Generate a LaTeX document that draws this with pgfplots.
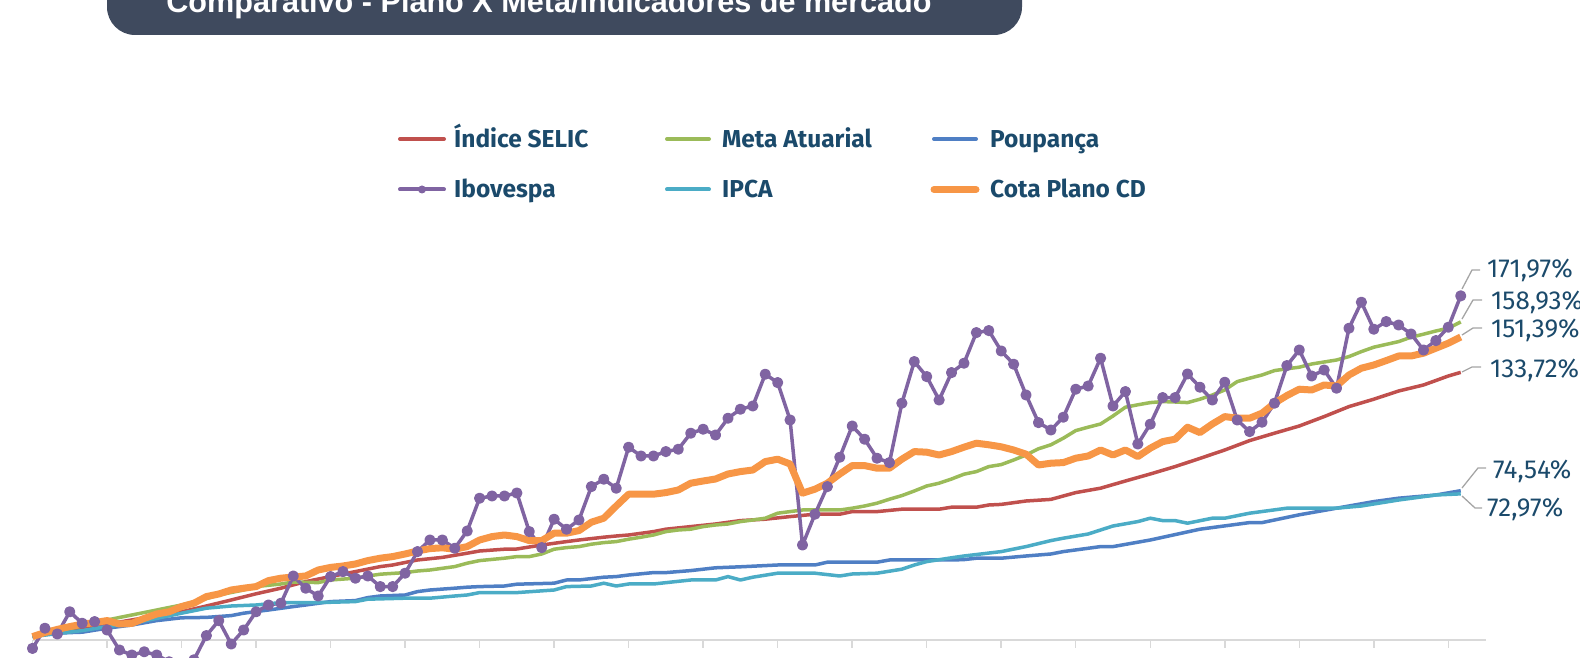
\documentclass[border=0pt]{standalone}
\usepackage{pgfplots}
\pgfplotsset{compat=1.18}
\usepackage{fontspec}
\setmainfont{Fira Sans}
\newfontfamily\titlefont{Liberation Sans}
\definecolor{selic}{HTML}{C0504D}
\definecolor{meta}{HTML}{9BBB59}
\definecolor{poup}{HTML}{4F7FC4}
\definecolor{ibov}{HTML}{8064A2}
\definecolor{ipca}{HTML}{4BACC6}
\definecolor{cota}{HTML}{F79646}
\definecolor{txt}{HTML}{1B4A6B}
\definecolor{axgray}{HTML}{D9D9D9}
\definecolor{leader}{HTML}{A5A5A5}
\definecolor{titlebg}{HTML}{3F4A5E}
\begin{document}
\begin{tikzpicture}
\useasboundingbox (0,0) rectangle (1580pt,658pt);
\clip (0,0) rectangle (1580pt,658pt);
\begin{axis}[
  at={(32.5pt,18.2pt)}, anchor=south west,
  scale only axis, width=1453.1pt, height=360pt,
  xmin=0, xmax=117, ymin=0, ymax=180,
  axis x line*=bottom, axis y line=none,
  x axis line style={-, draw=axgray, line width=2pt},
  xtick={0,6,...,114}, xticklabels={}, ytick=\empty,
  tick align=outside, major tick length=8pt,
  every tick/.style={draw=axgray, line width=1.5pt},
  clip=false,
  line join=round,
]
\addplot[selic, line width=3.5pt, no marks] table {
0 1.6
3 4.5
6 7.8
9 11.0
12 14.0
14 16.9
16 19.9
18 23.0
20 25.8
22 29.1
24 31.6
26 34.1
28 36.6
29 37.4
31 39.9
33 41.2
35 43.3
36 44.4
38 45.3
39 45.4
41 47.4
43 49.1
44 49.9
46 51.3
47 51.9
48 52.4
50 54.1
51 55.3
53 56.6
55 57.9
57 59.6
59 60.3
61 61.6
63 62.8
65 62.8
66 64.1
68 64.1
70 65.3
73 65.3
74 66.3
76 66.3
77 67.4
78 67.7
80 69.4
82 70.2
84 73.6
86 75.8
88 79.4
90 82.9
92 86.6
94 90.7
96 94.9
98 99.6
100 103.3
102 106.9
104 111.6
106 116.6
108 120.3
110 124.4
112 127.4
114 131.9
115 133.72
};
\addplot[meta, line width=3.5pt, no marks] table {
0 1.6
3 5.5
6 9.9
8 12.4
10 14.9
12 17.4
14 20.6
15 22.4
17 24.9
18 26.6
20 27.9
21 28.9
23 28.6
24 29.9
26 30.8
27 31.9
28 32.8
30 33.6
31 34.4
32 34.9
34 36.6
35 38.3
36 39.6
38 40.8
39 41.6
40 41.6
41 42.9
42 45.3
43 46.1
44 46.6
45 47.8
46 48.6
47 49.1
48 50.3
49 51.3
50 52.4
51 54.1
52 54.9
53 55.3
54 56.6
55 57.4
56 57.9
57 59.1
58 59.9
59 60.8
60 63.3
61 64.1
62 64.9
65 64.9
66 65.8
67 66.9
68 68.3
69 70.3
70 72.1
71 74.4
72 76.9
73 78.3
74 80.4
75 82.8
76 84.1
77 86.6
78 87.6
79 89.9
80 92.4
81 95.5
82 97.5
83 100.8
84 104.6
85 106.3
86 107.9
87 111.9
88 116.3
89 117.5
90 118.6
91 119.1
92 118.9
93 118.6
94 120.3
95 122.4
96 124.9
97 129.1
98 130.8
99 132.4
100 134.6
101 135.5
102 136.3
103 137.9
104 138.9
105 139.9
106 141.6
107 144.1
108 146.3
109 147.7
110 149.1
111 151.3
112 152.8
113 154.4
114 155.8
115 158.93
};
\addplot[poup, line width=3.5pt, no marks] table {
0 1.6
1 2.9
3 3.6
4 3.8
6 5.8
7 6.6
8 7.4
10 9.6
12 11.0
14 11.2
16 12.1
17 13.3
19 14.9
21 16.6
22 17.4
24 19.1
26 19.6
27 21.1
28 21.9
30 22.4
31 24.1
32 24.9
34 25.8
35 26.3
36 26.6
38 26.9
39 27.8
42 28.3
43 29.9
44 29.9
46 31.3
47 31.6
48 32.4
50 33.6
51 33.6
53 34.6
55 36.0
57 36.5
60 37.4
63 37.4
64 38.8
68 38.8
69 39.9
74 39.9
75 40.1
76 40.8
78 40.8
80 41.9
82 42.9
83 44.1
86 46.6
87 46.6
90 49.9
94 55.3
98 58.6
99 58.6
102 62.5
105 65.8
108 69.1
110 70.8
113 72.4
115 74.54
};
\addplot[ibov, line width=3.5pt, mark=*, mark size=3.8pt] table {
0 -4.3
1 5.8
2 2.9
3 14.0
4 8.3
5 9.1
6 4.9
7 -5.1
8 -7.6
9 -6.0
10 -7.6
11 -11.0
12 -13.0
13 -10.0
14 2.1
15 9.6
16 -2.1
17 4.9
18 14.0
19 17.4
20 18.3
21 31.9
22 25.8
23 21.9
24 31.6
25 34.1
26 30.8
27 31.9
28 26.6
29 26.6
30 33.3
31 44.1
32 49.9
33 49.9
34 45.8
35 54.4
36 70.8
37 71.9
38 71.9
39 73.4
40 54.1
41 46.1
42 60.3
43 55.3
44 59.9
45 76.6
46 80.3
47 75.8
48 96.3
49 91.9
50 91.9
51 94.1
52 95.3
53 103.3
54 105.3
55 102.4
56 110.8
57 115.3
58 116.9
59 132.8
60 128.6
61 109.9
62 47.4
63 62.8
64 76.6
65 91.3
66 106.9
67 100.3
68 90.8
69 88.6
70 118.3
71 139.1
72 131.6
73 119.9
74 133.6
75 138.3
76 153.6
77 154.6
78 144.4
79 137.8
80 122.4
81 108.6
82 104.9
83 111.3
84 125.3
85 126.9
86 140.8
87 116.9
88 124.1
89 97.9
90 107.8
91 121.1
92 121.1
93 132.9
94 126.3
95 119.9
96 128.8
97 109.9
98 104.1
99 108.8
100 118.3
101 137.1
102 144.9
103 131.9
104 134.9
105 125.8
106 155.8
107 168.8
108 155.3
109 159.1
110 157.4
111 152.9
112 144.9
113 149.6
114 156.3
115 171.97
};
\addplot[ipca, line width=3.5pt, no marks] table {
0 1.6
4 4.6
6 6.6
8 8.2
10 10.7
12 13.3
14 15.8
16 16.9
18 17.4
20 18.6
23 18.6
26 19.1
27 20.3
30 20.8
32 20.8
34 21.9
35 22.4
36 23.6
39 23.6
42 24.9
43 26.6
45 26.9
46 28.3
47 26.9
48 27.9
50 27.9
53 29.9
55 29.9
56 31.6
57 29.9
58 31.3
60 33.3
63 33.3
65 31.9
66 32.9
68 33.3
70 35.3
71 37.4
72 39.1
74 41.0
75 41.9
78 44.1
80 46.6
82 49.6
83 50.8
85 52.9
87 56.9
89 59.1
90 60.8
91 59.6
92 59.6
93 58.3
95 60.8
96 60.8
98 63.3
101 65.8
105 65.8
107 66.9
110 69.9
113 72.4
115 72.97
};
\addplot[cota, line width=7pt, no marks] table {
0 1.6
1 3.6
2 5.2
3 6.6
4 7.8
5 8.6
6 9.6
7 7.9
8 8.2
9 10.7
10 12.9
11 14.0
12 16.6
13 18.3
14 21.6
15 22.9
16 24.9
17 25.8
18 26.6
19 29.6
20 30.8
21 31.4
22 31.9
23 34.9
24 36.2
25 36.9
26 37.9
27 39.6
28 40.8
29 41.6
30 42.9
31 44.4
32 45.6
33 46.0
34 45.3
35 46.6
36 49.9
37 51.6
38 52.4
39 51.6
40 49.6
41 49.6
42 53.3
43 53.3
44 54.6
45 58.8
46 60.8
47 66.9
48 72.8
49 72.8
50 72.8
51 73.6
52 74.9
53 78.3
54 79.4
55 80.4
56 82.9
57 84.1
58 84.9
59 89.1
60 90.3
61 87.9
62 73.3
63 75.3
64 78.3
65 82.9
66 87.1
67 87.1
68 85.8
69 85.8
70 90.3
71 94.1
72 93.8
73 92.4
74 94.1
75 96.3
76 98.3
77 97.5
78 96.5
79 94.9
80 92.8
81 87.4
82 88.3
83 88.6
84 90.8
85 91.9
86 94.9
87 92.4
88 94.9
89 91.6
90 95.8
91 99.1
92 100.3
93 106.3
94 103.6
95 107.9
96 111.6
97 110.8
98 110.8
99 113.3
100 118.3
101 122.1
102 125.3
103 124.9
104 127.4
105 126.9
106 132.4
107 135.8
108 137.4
109 139.6
110 141.9
111 141.9
112 143.3
113 145.8
114 148.3
115 151.39
};
\end{axis}
\begin{scope}[x=1pt, y=-1pt, yshift=658pt]
  % title box
  \fill[titlebg, rounded corners=28pt] (107,-60) rectangle (1022,35);
  \node[anchor=base, text=white, inner sep=0pt] at (549,13)
    {\titlefont\bfseries\fontsize{30.6}{36}\selectfont Comparativo - Plano X Meta/Indicadores de mercado};
  % legend
  \begin{scope}[every node/.style={anchor=base west, inner sep=0pt, text=txt, font=\bfseries\fontsize{24.5}{28}\selectfont}]
    \draw[selic, line width=4pt, line cap=round] (400,139) -- (444,139);
    \node at (454,147.5) {Índice SELIC};
    \draw[meta, line width=4pt, line cap=round] (667,139) -- (709,139);
    \node at (722,147.5) {Meta Atuarial};
    \draw[poup, line width=4pt, line cap=round] (934,139) -- (976,139);
    \node at (990,147.5) {Poupança};
    \draw[ibov, line width=4pt, line cap=round] (400,189.5) -- (444,189.5);
    \fill[ibov] (422,189.5) circle (4pt);
    \node at (454,198) {Ibovespa};
    \draw[ipca, line width=4pt, line cap=round] (667,189.5) -- (709,189.5);
    \node at (722,198) {IPCA};
    \draw[cota, line width=7pt, line cap=round] (934,189.5) -- (976,189.5);
    \node at (990,198) {Cota Plano CD};
  \end{scope}
  % end labels
  \begin{scope}[leader, line width=1.3pt]
    \draw (1462,289) -- (1472,270) -- (1480,270);
    \draw (1462,319) -- (1473,300) -- (1482,300);
    \draw (1462,335) -- (1473,328) -- (1482,328);
    \draw (1462,372) -- (1472,367) -- (1481,367);
    \draw (1462,488) -- (1478,468) -- (1486,468);
    \draw (1462,496) -- (1475,508) -- (1482,508);
  \end{scope}
  \begin{scope}[every node/.style={anchor=west, inner sep=0pt, text=txt, font=\fontsize{26}{30}\selectfont}]
    \node at (1487,270) {171,97\%};
    \node at (1491,302) {158,93\%};
    \node at (1491,330) {151,39\%};
    \node at (1490,370) {133,72\%};
    \node at (1493,471) {74,54\%};
    \node at (1487,509) {72,97\%};
  \end{scope}
\end{scope}
\end{tikzpicture}
\end{document}
